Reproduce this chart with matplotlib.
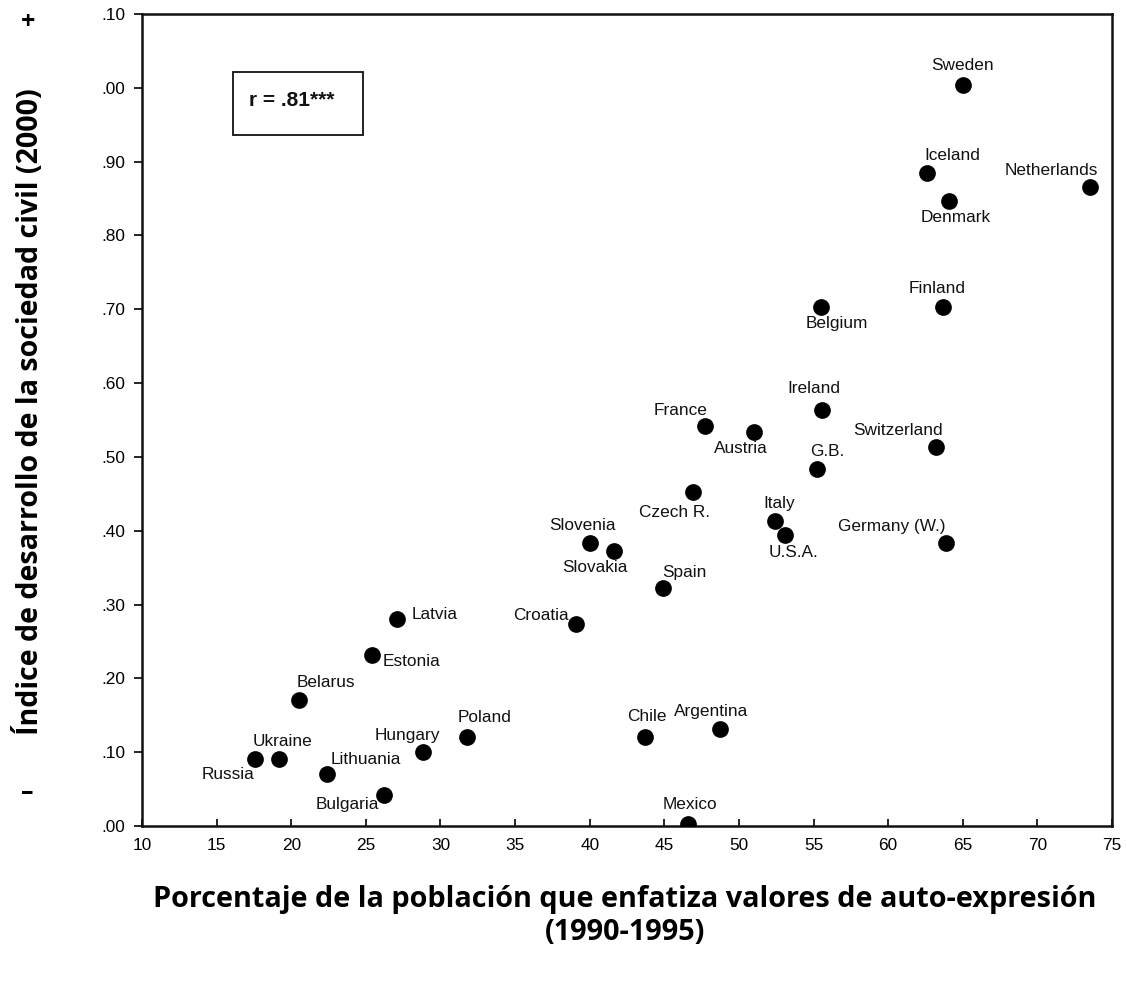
import matplotlib
matplotlib.use("Agg")
import matplotlib.pyplot as plt
from matplotlib.patches import Rectangle

# ---------------- data ----------------
countries = ["Sweden", "Iceland", "Denmark", "Netherlands", "Finland", "Belgium",
             "Ireland", "Switzerland", "G.B.", "Germany (W.)", "France", "Austria",
             "Czech R.", "Italy", "U.S.A.", "Slovenia", "Slovakia", "Spain", "Croatia",
             "Latvia", "Estonia", "Belarus", "Ukraine", "Russia", "Lithuania",
             "Hungary", "Poland", "Bulgaria", "Chile", "Argentina", "Mexico"]
self_expression = [65.0, 62.6, 64.1, 73.5, 63.7, 55.5,
                   55.6, 63.2, 55.2, 63.9, 47.7, 51.0,
                   46.9, 52.4, 53.1, 40.0, 41.6, 44.9, 39.1,
                   27.1, 25.4, 20.5, 19.2, 17.6, 22.4,
                   28.8, 31.8, 26.2, 43.7, 48.7, 46.6]
civil_society = [1.004, 0.885, 0.846, 0.866, 0.703, 0.703,
                 0.564, 0.514, 0.484, 0.383, 0.542, 0.534,
                 0.453, 0.413, 0.394, 0.383, 0.373, 0.322, 0.274,
                 0.280, 0.232, 0.171, 0.091, 0.091, 0.070,
                 0.100, 0.121, 0.042, 0.121, 0.131, 0.003]
x_ticks = [10, 15, 20, 25, 30, 35, 40, 45, 50, 55, 60, 65, 70, 75]
y_ticks = [0.0, 0.1, 0.2, 0.3, 0.4, 0.5, 0.6, 0.7, 0.8, 0.9, 1.0, 1.1]
y_ticklabels = [".00", ".10", ".20", ".30", ".40", ".50", ".60", ".70", ".80", ".90", ".00", ".10"]
r_text = "r = .81***"
ylabel = "Índice de desarrollo de la sociedad civil (2000)"
xlabel1 = "Porcentaje de la población que enfatiza valores de auto-expresión"
xlabel2 = "(1990-1995)"

# label offsets (pixels, relative to the dot) -- layout only
label_offsets = {
    "Sweden": (0, 19), "Iceland": (25, 17), "Denmark": (6, -16), "Netherlands": (-38, 16),
    "Finland": (-6, 19), "Belgium": (16, -16), "Ireland": (-9, 21), "Switzerland": (-38, 16),
    "G.B.": (11, 17), "Germany (W.)": (-55, 17), "France": (-24, 15), "Austria": (-13, -17),
    "Czech R.": (-18, -21), "Italy": (4, 18), "U.S.A.": (8, -17), "Slovenia": (-7, 18),
    "Slovakia": (-19, -17), "Spain": (22, 16), "Croatia": (-35, 8), "Latvia": (37, 5),
    "Estonia": (40, -7), "Belarus": (27, 17), "Ukraine": (3, 17), "Russia": (-27, -16),
    "Lithuania": (39, 15), "Hungary": (-15, 17), "Poland": (17, 19), "Bulgaria": (-36, -10),
    "Chile": (2, 20), "Argentina": (-8, 18), "Mexico": (2, 19),
}

W, H, DPI = 1127, 981, 100
plt.rcParams["font.family"] = ["Liberation Sans", "DejaVu Sans"]
fig = plt.figure(figsize=(W / DPI, H / DPI), dpi=DPI)
fig.patch.set_facecolor("white")

L, R, T, B = 142, 1112, 14, 826
ax = fig.add_axes([L / W, 1 - B / H, (R - L) / W, (B - T) / H])
ax.set_xlim(10, 75)
ax.set_ylim(0, 1.10)

ax.scatter(self_expression, civil_society, s=145, color="black", zorder=3, linewidths=0)

for name, x, y in zip(countries, self_expression, civil_society):
    dx, dy = label_offsets[name]
    ax.annotate(name, (x, y), xytext=(dx, dy), textcoords="offset pixels",
                ha="center", va="center", fontsize=12.4, color="#111111")

for s in ax.spines.values():
    s.set_linewidth(1.8)
    s.set_color("#111111")

ax.set_xticks(x_ticks)
ax.set_xticklabels([str(v) for v in x_ticks])
ax.set_yticks(y_ticks)
ax.set_yticklabels(y_ticklabels)
ax.tick_params(axis="x", direction="in", length=5, width=1.2, pad=9, labelsize=12.4)
ax.tick_params(axis="y", direction="out", length=6, width=1.2, pad=6, labelsize=12.4)

# r box
ax.add_patch(Rectangle((233 / W, 1 - 135 / H), 130 / W, 63 / H, transform=fig.transFigure,
                       fill=False, edgecolor="#111111", linewidth=1.3, zorder=4))
fig.text(292 / W, 1 - 101 / H, r_text, ha="center", va="center", fontsize=15,
         fontweight="bold", color="#111111")

# axis titles
title_font = ["Open Sans", "DejaVu Sans"]
ty = fig.text(30 / W, 1 - 412 / H, ylabel, rotation=90, ha="center", va="center",
              fontsize=18, fontweight="bold", family=title_font)
tx1 = fig.text(625 / W, 1 - 900 / H, xlabel1, ha="center", va="center",
               fontsize=18, fontweight="bold", family=title_font)
tx2 = fig.text(625 / W, 1 - 933 / H, xlabel2, ha="center", va="center",
               fontsize=18, fontweight="bold", family=title_font)
fig.text(28 / W, 1 - 22 / H, "+", ha="center", va="center",
         fontsize=18, fontweight="bold", family=title_font)
fig.text(27 / W, 1 - 793 / H, "–", ha="center", va="center",
         fontsize=18, fontweight="bold", family=title_font)

# fit title sizes to the reference extents
fig.canvas.draw()
rend = fig.canvas.get_renderer()
w1 = tx1.get_window_extent(rend).width
scale = 950.0 / w1
for t in (tx1, tx2):
    t.set_fontsize(18 * scale)
hy = ty.get_window_extent(rend).height
ty.set_fontsize(18 * 650.0 / hy)

fig.savefig("out.png", dpi=DPI, facecolor="white")
